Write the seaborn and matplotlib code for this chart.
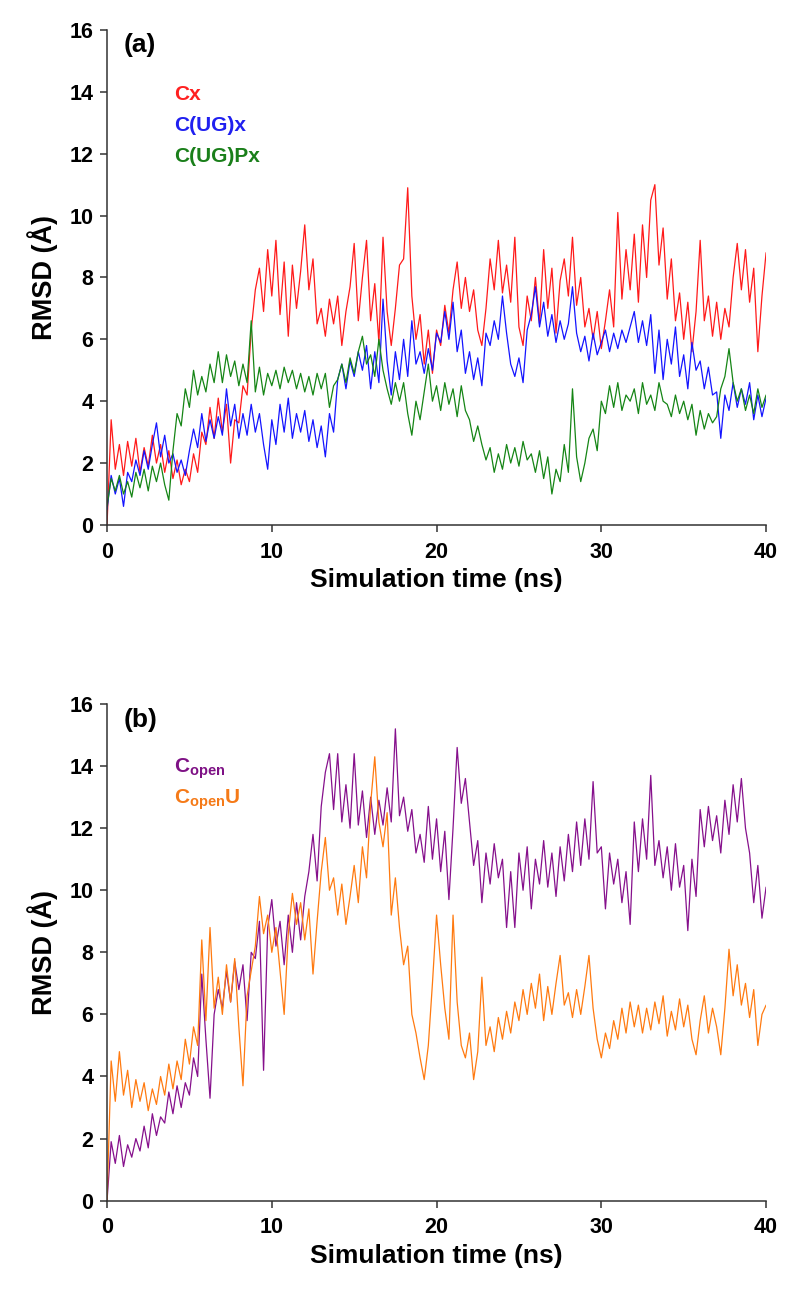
import numpy as np
import pandas as pd
import matplotlib
matplotlib.use("Agg")
import matplotlib.pyplot as plt
import seaborn as sns

# ---- data (RMSD in Angstrom, sampled every 0.25 ns from 0 to 40 ns) ----
time_ns = [i * 0.25 for i in range(161)]

rmsd_cx = [
    0.0, 3.4, 1.8, 2.6, 1.6, 2.7, 1.9, 2.8, 1.7, 2.5, 1.9, 2.9, 2.0, 2.6, 1.7, 2.4,
    1.5, 2.1, 1.3, 1.8, 1.4, 2.3, 1.7, 3.0, 2.6, 3.8, 2.8, 4.1, 3.0, 3.9, 2.0, 3.4,
    3.3, 4.5, 4.2, 6.3, 7.6, 8.3, 6.9, 8.9, 7.4, 9.2, 6.8, 8.5, 6.1, 8.4, 7.0, 8.2,
    9.7, 7.6, 8.6, 6.5, 7.0, 6.1, 7.3, 6.5, 7.4, 5.8, 6.9, 7.7, 9.1, 6.6, 8.0, 9.2,
    6.6, 7.8, 5.9, 9.3, 6.9, 5.8, 7.0, 8.4, 8.6, 10.9, 7.4, 6.0, 6.8, 5.2, 6.3, 4.9,
    6.3, 5.8, 7.1, 6.2, 7.6, 8.5, 7.0, 8.0, 6.9, 7.6, 6.3, 5.8, 7.0, 8.6, 7.6, 9.2,
    7.5, 8.4, 7.2, 9.3, 6.4, 5.8, 7.4, 6.6, 8.0, 6.5, 8.9, 7.0, 8.3, 6.2, 7.9, 8.6,
    7.4, 9.3, 7.1, 8.0, 6.4, 7.0, 6.0, 6.9, 5.7, 6.6, 7.6, 6.4, 10.1, 7.3, 8.9, 7.6,
    9.4, 7.2, 9.7, 8.0, 10.5, 11.0, 8.4, 9.6, 7.3, 8.6, 6.6, 7.5, 6.0, 7.2, 5.6, 6.9,
    9.2, 6.6, 7.4, 6.1, 7.2, 6.0, 7.0, 6.4, 8.0, 9.1, 7.6, 8.9, 7.2, 8.3, 5.6, 7.4,
    8.8,
]

rmsd_cugx = [
    0.5, 1.6, 1.0, 1.5, 0.6, 1.7, 1.4, 2.1, 1.6, 2.4, 1.8, 2.6, 3.3, 2.2, 2.9, 2.0,
    2.3, 1.7, 2.1, 1.6, 2.4, 3.1, 2.5, 3.6, 2.7, 3.4, 2.8, 3.5, 2.9, 4.4, 3.2, 3.9,
    2.8, 3.6, 2.9, 3.9, 3.0, 3.6, 2.6, 1.8, 3.4, 2.6, 3.9, 3.0, 4.1, 2.8, 3.6, 3.0,
    3.7, 2.7, 3.4, 2.5, 3.2, 2.2, 3.6, 3.0, 4.7, 5.2, 4.4, 5.3, 4.8, 5.6, 5.0, 5.8,
    4.4, 5.6, 4.6, 7.3, 5.3, 4.2, 5.6, 4.7, 6.0, 4.8, 6.6, 5.2, 5.6, 4.9, 5.7, 5.0,
    6.2, 5.9, 6.9, 6.0, 7.2, 5.6, 6.3, 4.9, 5.6, 4.7, 5.4, 4.5, 6.2, 5.8, 6.6, 6.0,
    7.4, 6.2, 5.2, 4.8, 5.4, 4.6, 6.3, 6.8, 7.7, 6.4, 7.2, 6.1, 6.8, 5.9, 6.6, 6.0,
    6.5, 7.7, 6.2, 5.6, 6.1, 5.3, 6.2, 5.5, 5.9, 6.3, 5.6, 6.2, 5.7, 6.3, 5.9, 6.4,
    6.9, 5.9, 6.6, 5.8, 6.8, 4.9, 6.3, 4.7, 6.0, 5.2, 6.4, 4.8, 5.5, 4.4, 5.9, 5.0,
    5.3, 4.4, 5.1, 4.2, 4.3, 2.8, 4.2, 3.7, 4.6, 3.8, 4.4, 3.9, 4.6, 3.4, 4.2, 3.5,
    4.1,
]

rmsd_cugpx = [
    0.6, 1.5, 1.1, 1.6, 1.0, 1.4, 0.9, 1.7, 1.2, 1.8, 1.1, 1.9, 1.4, 2.0, 1.3, 0.8,
    2.4, 3.6, 3.2, 4.4, 3.8, 5.0, 4.2, 4.8, 4.3, 5.2, 4.6, 5.6, 4.6, 5.5, 4.8, 5.3,
    4.5, 5.2, 4.6, 6.6, 4.3, 5.1, 4.2, 4.9, 4.5, 5.0, 4.4, 5.1, 4.6, 5.0, 4.4, 4.9,
    4.3, 4.8, 4.2, 4.9, 4.4, 4.9, 3.8, 4.5, 4.7, 5.2, 4.6, 5.4, 4.9, 5.6, 6.1, 5.2,
    5.5, 4.8, 6.0, 5.0, 4.4, 3.9, 4.6, 4.0, 4.6, 3.6, 2.9, 4.0, 3.4, 4.3, 5.2, 4.0,
    4.5, 3.7, 4.6, 3.9, 4.4, 3.5, 4.5, 3.7, 3.4, 2.7, 3.2, 2.6, 2.1, 2.5, 1.7, 2.3,
    1.8, 2.6, 2.0, 2.5, 1.9, 2.7, 2.1, 2.3, 1.7, 2.4, 1.5, 2.2, 1.0, 1.8, 1.4, 2.6,
    1.7, 4.4, 2.2, 1.4, 2.0, 2.8, 3.1, 2.4, 4.0, 3.6, 4.5, 3.8, 4.6, 3.7, 4.2, 4.0,
    4.4, 3.6, 4.6, 3.9, 4.2, 3.7, 4.6, 4.0, 3.9, 3.5, 4.2, 3.6, 4.0, 3.4, 3.9, 2.9,
    3.7, 3.1, 3.6, 3.3, 3.5, 4.4, 4.8, 5.7, 4.6, 4.0, 4.4, 3.7, 4.2, 3.6, 4.4, 3.8,
    4.2,
]

rmsd_copen = [
    0.0, 1.9, 1.2, 2.1, 1.1, 1.8, 1.4, 2.0, 1.6, 2.4, 1.7, 2.8, 2.1, 2.7, 2.5, 3.5,
    2.8, 3.7, 3.0, 3.8, 3.4, 4.6, 4.0, 7.3, 5.2, 3.3, 6.0, 6.8, 6.2, 7.4, 6.4, 7.7,
    6.8, 7.6, 5.8, 8.0, 7.8, 9.0, 4.2, 8.8, 9.7, 8.2, 9.0, 7.6, 9.2, 8.0, 9.6, 8.4,
    9.8, 10.6, 11.8, 10.3, 12.7, 13.8, 14.4, 12.6, 14.4, 12.2, 13.4, 12.0, 14.4, 12.1, 13.2, 11.7,
    13.0, 11.8, 12.9, 12.1, 13.3, 12.2, 15.2, 12.4, 13.0, 11.9, 12.6, 11.2, 11.8, 10.9, 12.7, 11.0,
    12.3, 10.6, 11.9, 9.7, 12.0, 14.6, 12.8, 13.6, 12.2, 10.8, 11.6, 9.6, 11.2, 10.2, 11.5, 10.4,
    11.0, 8.8, 10.6, 8.8, 11.2, 10.0, 11.4, 9.4, 11.0, 10.2, 11.6, 10.1, 11.2, 9.8, 11.4, 10.3,
    11.8, 10.6, 12.2, 10.8, 12.3, 11.0, 13.5, 11.2, 11.4, 9.4, 11.2, 10.2, 11.0, 9.6, 10.6, 8.9,
    12.2, 10.6, 12.3, 11.0, 13.7, 10.8, 11.6, 10.4, 11.4, 10.0, 11.5, 10.1, 10.8, 8.7, 11.0, 9.8,
    12.6, 11.4, 12.7, 11.6, 12.4, 11.2, 12.9, 11.8, 13.4, 12.2, 13.6, 12.0, 11.2, 9.6, 10.8, 9.1,
    10.1,
]

rmsd_copenu = [
    0.0, 4.5, 3.2, 4.8, 3.4, 4.2, 3.0, 3.9, 3.2, 3.8, 2.9, 3.6, 3.1, 4.0, 3.4, 4.4,
    3.6, 4.5, 3.9, 5.2, 4.4, 5.6, 5.0, 8.4, 5.8, 8.8, 6.2, 7.2, 6.0, 7.6, 6.4, 7.8,
    5.6, 3.7, 6.6, 7.4, 8.2, 9.8, 8.6, 9.2, 8.0, 8.8, 7.4, 6.0, 8.6, 9.9, 8.9, 9.6,
    8.4, 9.4, 7.3, 9.0, 10.6, 11.7, 10.0, 10.4, 9.2, 10.2, 8.9, 9.8, 10.8, 9.6, 11.4, 10.4,
    12.8, 14.3, 12.2, 11.4, 12.5, 9.2, 10.4, 8.8, 7.6, 8.2, 6.0, 5.4, 4.6, 3.9, 5.0, 7.0,
    9.2, 7.6, 6.2, 5.2, 9.2, 6.4, 5.0, 4.6, 5.4, 3.9, 4.8, 7.2, 5.0, 5.6, 4.8, 5.9,
    5.2, 6.1, 5.4, 6.4, 5.8, 6.8, 6.0, 7.0, 6.2, 7.3, 5.8, 6.9, 6.0, 7.0, 7.9, 6.3,
    6.7, 5.9, 6.8, 6.0, 6.9, 7.9, 6.2, 5.2, 4.6, 5.4, 4.9, 5.8, 5.2, 6.2, 5.4, 6.4,
    5.6, 6.3, 5.4, 6.2, 5.5, 6.4, 5.7, 6.6, 5.3, 6.1, 5.5, 6.5, 5.6, 6.3, 5.2, 4.7,
    5.8, 6.6, 5.4, 6.2, 5.6, 4.7, 6.2, 8.1, 6.6, 7.6, 6.3, 7.0, 5.9, 6.8, 5.0, 6.0,
    6.3,
]

series_a = ["Cx", "C(UG)x", "C(UG)Px"]
series_b = ["Copen", "CopenU"]
labels_b = [r"$\mathbf{C_{open}}$", r"$\mathbf{C_{open}U}$"]
x_ticks = [0, 10, 20, 30, 40]
y_ticks = [0, 2, 4, 6, 8, 10, 12, 14, 16]

colors_a = {"Cx": "#ff1a1a", "C(UG)x": "#1414ff", "C(UG)Px": "#158515"}
text_colors_a = ["#ff2020", "#2020f0", "#1a7f1a"]
colors_b = {"Copen": "#86108c", "CopenU": "#ff7a10"}
text_colors_b = ["#7e1185", "#f57a18"]

df_a = pd.DataFrame({
    "time": time_ns * 3,
    "rmsd": rmsd_cx + rmsd_cugx + rmsd_cugpx,
    "system": sum([[s] * len(time_ns) for s in series_a], []),
})
df_b = pd.DataFrame({
    "time": time_ns * 2,
    "rmsd": rmsd_copen + rmsd_copenu,
    "system": sum([[s] * len(time_ns) for s in series_b], []),
})

sns.set_style("ticks")
plt.rcParams["font.family"] = ["Liberation Sans", "DejaVu Sans"]
plt.rcParams["font.weight"] = "bold"
plt.rcParams["text.color"] = "black"
plt.rcParams["axes.labelcolor"] = "black"
plt.rcParams["xtick.color"] = "black"
plt.rcParams["ytick.color"] = "black"
plt.rcParams["mathtext.fontset"] = "custom"
plt.rcParams["mathtext.bf"] = "Liberation Sans:bold"
plt.rcParams["mathtext.rm"] = "Liberation Sans"

fig = plt.figure(figsize=(8, 12.92), dpi=100)
ax_a = fig.add_axes([0.1338, 0.5937, 0.8238, 0.3831])
ax_b = fig.add_axes([0.1338, 0.0707, 0.8238, 0.3844])

sns.lineplot(data=df_a, x="time", y="rmsd", hue="system", palette=colors_a,
             hue_order=series_a, ax=ax_a, linewidth=0.9, legend=False,
             estimator=None, sort=False)
sns.lineplot(data=df_b, x="time", y="rmsd", hue="system", palette=colors_b,
             hue_order=series_b, ax=ax_b, linewidth=0.9, legend=False,
             estimator=None, sort=False)

for ax, tag in [(ax_a, "(a)"), (ax_b, "(b)")]:
    ax.set_xlim(0, 40)
    ax.set_ylim(0, 16)
    ax.set_xticks(x_ticks)
    ax.set_yticks(y_ticks)
    sns.despine(ax=ax)
    for sp in ["left", "bottom"]:
        ax.spines[sp].set_color("#333333")
        ax.spines[sp].set_linewidth(1.1)
    ax.tick_params(axis="both", direction="out", length=5, width=1.1,
                   color="#333333", labelcolor="black", labelsize=15.5)
    ax.tick_params(axis="x", pad=7)
    ax.tick_params(axis="y", pad=5)
    for lab in ax.get_xticklabels() + ax.get_yticklabels():
        lab.set_fontweight("bold")
    ax.set_xlabel("Simulation time (ns)", fontsize=19, fontweight="bold",
                  labelpad=4, color="black")
    ax.set_ylabel("RMSD (Å)", fontsize=19.5, fontweight="bold", labelpad=8,
                  color="black")
    ax.text(1.0, 15.5, tag, fontsize=19, fontweight="bold", va="center",
            ha="left", color="black")

for i, (name, col) in enumerate(zip(series_a, text_colors_a)):
    ax_a.text(4.05, 13.9 - i * 1.0, name, color=col, fontsize=15,
              fontweight="bold", va="center", ha="left")
for i, (lab, col) in enumerate(zip(labels_b, text_colors_b)):
    ax_b.text(4.05, 13.9 - i * 1.0, lab, color=col, fontsize=15,
              fontweight="bold", va="center", ha="left")

fig.savefig("out.png", dpi=100)
